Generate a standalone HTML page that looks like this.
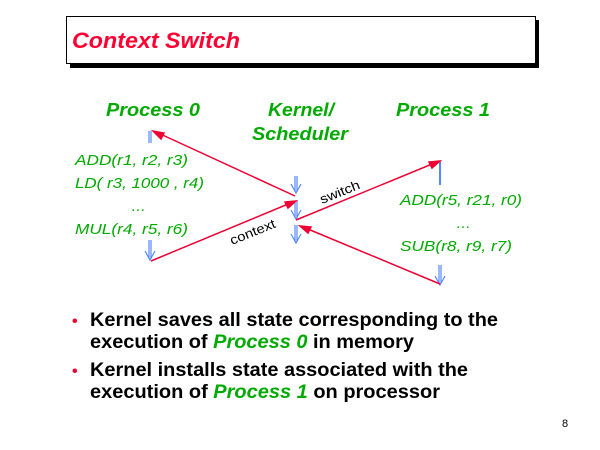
<!DOCTYPE html>
<html><head><style>
body{margin:0;background:#fff;}
svg{display:block;}
</style></head><body>
<svg width="600" height="450" xmlns="http://www.w3.org/2000/svg" font-family="Liberation Sans, Arial, sans-serif">
<rect x="0" y="0" width="600" height="450" fill="#fff"/>
<rect x="70" y="20" width="469" height="48" fill="#000"/>
<rect x="66.5" y="16.5" width="469" height="47" fill="#fff" stroke="#000" stroke-width="1"/>
<text x="72" y="48" font-size="22" font-weight="bold" font-style="italic" fill="#ff0033" textLength="168" lengthAdjust="spacingAndGlyphs">Context Switch</text>

<g font-weight="bold" font-style="italic" font-size="18" fill="#00aa00">
<text x="106" y="116" textLength="94" lengthAdjust="spacingAndGlyphs">Process 0</text>
<text x="268" y="116" textLength="66" lengthAdjust="spacingAndGlyphs">Kernel/</text>
<text x="252" y="140" textLength="96" lengthAdjust="spacingAndGlyphs">Scheduler</text>
<text x="396" y="116" textLength="94" lengthAdjust="spacingAndGlyphs">Process 1</text>
</g>
<g font-style="italic" font-size="15" fill="#00aa00" lengthAdjust="spacingAndGlyphs">
<text x="75" y="165" textLength="113" lengthAdjust="spacingAndGlyphs">ADD(r1, r2, r3)</text>
<text x="75" y="188" textLength="129" lengthAdjust="spacingAndGlyphs">LD( r3, 1000 , r4)</text>
<text x="131" y="211">…</text>
<text x="75" y="234" textLength="113" lengthAdjust="spacingAndGlyphs">MUL(r4, r5, r6)</text>
<text x="400" y="205" textLength="122" lengthAdjust="spacingAndGlyphs">ADD(r5, r21, r0)</text>
<text x="456" y="228">…</text>
<text x="400" y="251" textLength="112" lengthAdjust="spacingAndGlyphs">SUB(r8, r9, r7)</text>
</g>

<g stroke="#5588ff" stroke-width="1.2" fill="none">
<line x1="149" y1="131" x2="149" y2="143"/><line x1="151" y1="131" x2="151" y2="143"/>
<line x1="149" y1="240" x2="149" y2="259"/><line x1="151" y1="240" x2="151" y2="259"/>
<polyline points="145,251 150,260 155,251"/>
<line x1="295" y1="176" x2="295" y2="192"/><line x1="297" y1="176" x2="297" y2="192"/>
<polyline points="291,184 296,193 301,184"/>
<line x1="295" y1="201" x2="295" y2="218"/><line x1="297" y1="201" x2="297" y2="218"/>
<polyline points="291,210 296,219 301,210"/>
<line x1="295" y1="225" x2="295" y2="242"/><line x1="297" y1="225" x2="297" y2="242"/>
<polyline points="291,234 296,243 301,234"/>
<line x1="440" y1="161" x2="440" y2="185" stroke-width="2"/>
<line x1="439" y1="265" x2="439" y2="284"/><line x1="441" y1="265" x2="441" y2="284"/>
<polyline points="435,276 440,285 445,276"/>
</g>

<g stroke="#ee0033" stroke-width="1.5" fill="#ee0033">
<line x1="151" y1="261" x2="293" y2="202"/>
<polygon points="296,201 285,202 288,208"/>
<line x1="295" y1="196" x2="156" y2="132"/>
<polygon points="153,131 161,139 164,133"/>
<line x1="296" y1="220" x2="437" y2="162"/>
<polygon points="440,161 429,162 432,168"/>
<line x1="440" y1="284" x2="303" y2="227"/>
<polygon points="300,226 308,233 311,227"/>
</g>
<g font-size="13" fill="#000">
<text x="0" y="0" transform="translate(232,245) rotate(-22)" textLength="48" lengthAdjust="spacingAndGlyphs">context</text>
<text x="0" y="0" transform="translate(322,204) rotate(-22)" textLength="42" lengthAdjust="spacingAndGlyphs">switch</text>
</g>

<g font-size="19" font-weight="bold" fill="#000">
<text x="72" y="326" fill="#ee0033" font-size="16">•</text>
<text x="90" y="326" textLength="408" lengthAdjust="spacingAndGlyphs">Kernel saves all state corresponding to the</text>
<text x="90" y="348" textLength="324" lengthAdjust="spacingAndGlyphs">execution of <tspan fill="#00aa00" font-style="italic">Process 0</tspan> in memory</text>
<text x="72" y="376" fill="#ee0033" font-size="16">•</text>
<text x="90" y="376" textLength="378" lengthAdjust="spacingAndGlyphs">Kernel installs state associated with the</text>
<text x="90" y="398" textLength="350" lengthAdjust="spacingAndGlyphs">execution of <tspan fill="#00aa00" font-style="italic">Process 1</tspan> on processor</text>
</g>
<text x="562" y="427" font-size="11" fill="#000">8</text>
</svg>
</body></html>
